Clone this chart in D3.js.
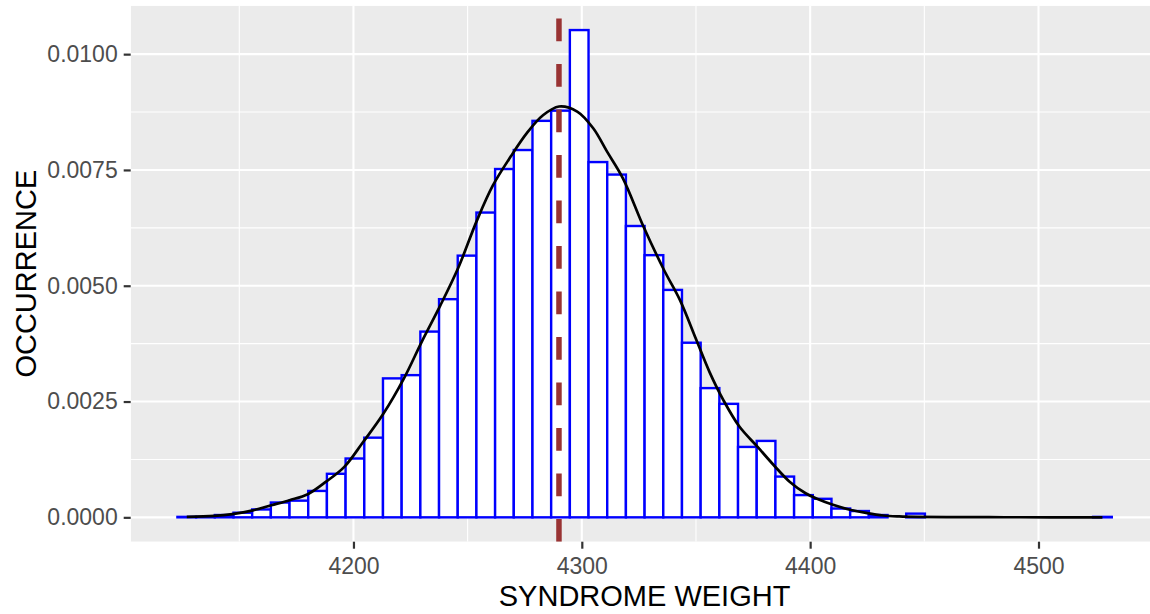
<!DOCTYPE html>
<html>
<head>
<meta charset="utf-8">
<script src="https://cdn.jsdelivr.net/npm/d3@7"></script>
<style>
  html, body { margin: 0; padding: 0; background: #ffffff; }
  svg { display: block; font-family: "Liberation Sans", Arial, sans-serif; }
</style>
</head>
<body>
<svg id="chart" width="1150" height="614"></svg>
<script>
// Syndrome weight distribution: histogram (density scale) with a smoothed density curve
const weightMin = 4127;
const weightMax = 4528;
const binCount = 50;

// Density of each histogram bin, left to right
const binDensity = [
  0.00001, 0.00001, 0.00005, 0.0001, 0.00017, 0.00032, 0.00036, 0.00057, 0.00094, 0.00127,
  0.00172, 0.0030, 0.00307, 0.00401, 0.00471, 0.00565, 0.00658, 0.00752, 0.00793, 0.00856,
  0.00878, 0.01052, 0.00767, 0.0074, 0.00629, 0.00566, 0.00491, 0.00377, 0.00279, 0.00245,
  0.00152, 0.00165, 0.00088, 0.00048, 0.0004, 0.00019, 0.000136, 0.00005, 0, 0.00008,
  0, 0, 0, 0, 0, 0, 0, 0, 0, 0.00001
];

// Kernel density estimate, sampled along the weight axis
const densityWeight = [
  4127, 4139, 4147, 4156, 4164, 4172, 4180, 4188, 4196, 4204,
  4213, 4222, 4230, 4238, 4246, 4254, 4261, 4269, 4276, 4283,
  4290, 4298, 4305, 4311, 4318, 4327, 4336, 4343, 4350, 4356,
  4362, 4369, 4377, 4384, 4391, 4398, 4403, 4410, 4417, 4425,
  4432, 4439, 4447, 4465, 4485, 4505, 4528
];
const densityValue = [
  0.00001, 0.00003, 0.00007, 0.00015, 0.00026, 0.00037, 0.0005, 0.00077, 0.00109, 0.00161,
  0.00223, 0.00299, 0.00380, 0.00457, 0.00540, 0.00640, 0.00716, 0.00780, 0.00830, 0.00868,
  0.00887, 0.00876, 0.0084, 0.0079, 0.00732, 0.00628, 0.00534, 0.00469, 0.00385, 0.00313,
  0.00253, 0.00196, 0.00152, 0.00113, 0.00077, 0.00052, 0.0004, 0.00027, 0.00017, 0.00009,
  0.00004, 0.00002, 0.00001, 0.000005, 0.000002, 0.000001, 0
];

const meanWeight = 4290;

const weightTicks = [4200, 4300, 4400, 4500];
const weightMinorTicks = [4150, 4250, 4350, 4450, 4550];
const occurrenceTicks = [0, 0.0025, 0.005, 0.0075, 0.01];
const occurrenceMinorTicks = [0.00125, 0.00375, 0.00625, 0.00875];

const xTitle = "SYNDROME WEIGHT";
const yTitle = "OCCURRENCE";

// ---- layout ----
const svg = d3.select("#chart");
const W = 1150, H = 614;
const panel = { left: 130.7, right: 1158.5, top: 5.7, bottom: 541.7 };

// histogram bins (same rule as bins = n: width = range / (n - 1), centred on the extremes)
const binWidth = (weightMax - weightMin) / (binCount - 1);
const bins = binDensity.map((d, i) => ({
  x0: weightMin - binWidth / 2 + i * binWidth,
  x1: weightMin - binWidth / 2 + (i + 1) * binWidth,
  density: d
}));

// continuous scales with 5% expansion on each side
const xLo = bins[0].x0, xHi = bins[bins.length - 1].x1;
const xPad = (xHi - xLo) * 0.05;
const yMax = d3.max(binDensity);
const yPad = yMax * 0.05;

const x = d3.scaleLinear().domain([xLo - xPad, xHi + xPad]).range([panel.left, panel.right]);
const y = d3.scaleLinear().domain([-yPad, yMax + yPad]).range([panel.bottom, panel.top]);

svg.append("rect").attr("width", W).attr("height", H).attr("fill", "#ffffff");

svg.append("defs").append("clipPath").attr("id", "panel-clip")
  .append("rect")
  .attr("x", panel.left).attr("y", panel.top)
  .attr("width", panel.right - panel.left).attr("height", panel.bottom - panel.top);

const plot = svg.append("g").attr("clip-path", "url(#panel-clip)");

plot.append("rect")
  .attr("x", panel.left).attr("y", panel.top)
  .attr("width", panel.right - panel.left).attr("height", panel.bottom - panel.top)
  .attr("fill", "#EBEBEB");

// minor grid
plot.selectAll("line.vminor").data(weightMinorTicks).join("line")
  .attr("x1", d => x(d)).attr("x2", d => x(d))
  .attr("y1", panel.top).attr("y2", panel.bottom)
  .attr("stroke", "#ffffff").attr("stroke-width", 1.1);
plot.selectAll("line.hminor").data(occurrenceMinorTicks).join("line")
  .attr("x1", panel.left).attr("x2", panel.right)
  .attr("y1", d => y(d)).attr("y2", d => y(d))
  .attr("stroke", "#ffffff").attr("stroke-width", 1.1);

// major grid
plot.selectAll("line.vmajor").data(weightTicks).join("line")
  .attr("x1", d => x(d)).attr("x2", d => x(d))
  .attr("y1", panel.top).attr("y2", panel.bottom)
  .attr("stroke", "#ffffff").attr("stroke-width", 2.1);
plot.selectAll("line.hmajor").data(occurrenceTicks).join("line")
  .attr("x1", panel.left).attr("x2", panel.right)
  .attr("y1", d => y(d)).attr("y2", d => y(d))
  .attr("stroke", "#ffffff").attr("stroke-width", 2.1);

// histogram bars
plot.append("g").selectAll("rect").data(bins).join("rect")
  .attr("x", d => x(d.x0))
  .attr("width", d => x(d.x1) - x(d.x0))
  .attr("y", d => y(d.density))
  .attr("height", d => y(0) - y(d.density))
  .attr("fill", "#ffffff")
  .attr("stroke", "#0000FF")
  .attr("stroke-width", 2.4);

// density curve
const densityPts = densityWeight.map((w, i) => [w, densityValue[i]]);
plot.append("path")
  .datum(densityPts)
  .attr("d", d3.line().x(d => x(d[0])).y(d => y(Math.max(0, d[1]))).curve(d3.curveCatmullRom.alpha(0.5)))
  .attr("fill", "none")
  .attr("stroke", "#000000")
  .attr("stroke-width", 2.7)
  .attr("stroke-linejoin", "round");

// mean line (drawn bottom to top, dashed)
plot.append("line")
  .attr("x1", x(meanWeight)).attr("x2", x(meanWeight))
  .attr("y1", panel.bottom).attr("y2", panel.top)
  .attr("stroke", "#993333")
  .attr("stroke-width", 5.5)
  .attr("stroke-dasharray", "22.75,22.75");

// axes
const tickColor = "#333333";
const labelColor = "#4D4D4D";

const xAxis = svg.append("g")
  .attr("transform", `translate(0,${panel.bottom})`)
  .call(d3.axisBottom(x).tickValues(weightTicks).tickFormat(d3.format("d")).tickSize(7).tickPadding(9));
const yAxis = svg.append("g")
  .attr("transform", `translate(${panel.left},0)`)
  .call(d3.axisLeft(y).tickValues(occurrenceTicks).tickFormat(d3.format(".4f")).tickSize(7).tickPadding(6));

[xAxis, yAxis].forEach(g => {
  g.select(".domain").remove();
  g.selectAll(".tick line").attr("stroke", tickColor).attr("stroke-width", 2.2);
  g.selectAll(".tick text")
    .attr("fill", labelColor)
    .style("font-size", "23px")
    .style("font-family", "'Liberation Sans', Arial, sans-serif");
});

// axis titles
svg.append("text")
  .attr("x", (panel.left + panel.right) / 2)
  .attr("y", 606)
  .attr("text-anchor", "middle")
  .attr("fill", "#000000")
  .style("font-size", "29px")
  .text(xTitle);

svg.append("text")
  .attr("transform", `translate(36,${(panel.top + panel.bottom) / 2}) rotate(-90)`)
  .attr("text-anchor", "middle")
  .attr("fill", "#000000")
  .style("font-size", "29px")
  .text(yTitle);
</script>
</body>
</html>
